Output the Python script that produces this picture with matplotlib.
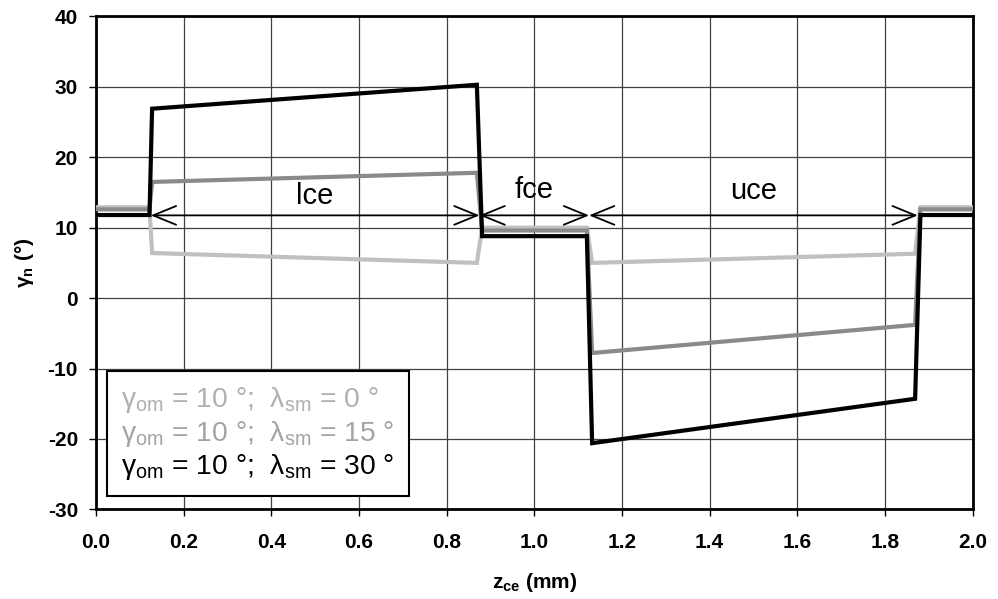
import matplotlib
matplotlib.use("Agg")
import matplotlib.pyplot as plt
from matplotlib.lines import Line2D

plt.rcParams['font.family'] = ['Liberation Sans', 'DejaVu Sans']
plt.rcParams['mathtext.fontset'] = 'custom'
plt.rcParams['mathtext.rm'] = 'Liberation Sans'
plt.rcParams['mathtext.bf'] = 'Liberation Sans:bold'
plt.rcParams['mathtext.it'] = 'Liberation Sans:italic'

# ---- data ----
z_ce = [0.0, 0.122, 0.128, 0.869, 0.881, 1.12, 1.132, 1.869, 1.881, 2.0]
gamma_lam0 = [12.9, 12.9, 6.4, 5.0, 10.0, 10.0, 5.0, 6.3, 12.9, 12.9]
gamma_lam15 = [12.6, 12.6, 16.5, 17.8, 9.6, 9.6, -7.8, -3.8, 12.6, 12.6]
gamma_lam30 = [11.8, 11.8, 26.9, 30.3, 8.8, 8.8, -20.6, -14.3, 11.8, 11.8]

series_labels = [r'γ$_{\rm om}$ = 10 °;  λ$_{\rm sm}$ = 0 °',
                 r'γ$_{\rm om}$ = 10 °;  λ$_{\rm sm}$ = 15 °',
                 r'γ$_{\rm om}$ = 10 °;  λ$_{\rm sm}$ = 30 °']
line_colors = ['#c0c0c0', '#8a8a8a', '#000000']
text_colors = ['#b0b0b0', '#a4a4a4', '#000000']

zone_names = ['lce', 'fce', 'uce']
zone_starts = [0.125, 0.875, 1.125]
zone_ends = [0.875, 1.125, 1.875]
zone_label_x = [0.5, 1.0, 1.5]
zone_label_y = [14.5, 15.4, 15.2]
arrow_y = 11.75

x_ticks = [0.0, 0.2, 0.4, 0.6, 0.8, 1.0, 1.2, 1.4, 1.6, 1.8, 2.0]
y_ticks = [-30, -20, -10, 0, 10, 20, 30, 40]

fig = plt.figure(figsize=(9.98, 5.99), dpi=100)
ax = fig.add_axes([0.0962, 0.1497, 0.8783, 0.8228])

ax.set_xlim(0, 2)
ax.set_ylim(-30, 40)
ax.set_xticks(x_ticks)
ax.set_yticks(y_ticks)
ax.set_xticklabels([f"{v:.1f}" for v in x_ticks], fontweight='bold', fontsize=15)
ax.set_yticklabels([str(v) for v in y_ticks], fontweight='bold', fontsize=15)
ax.grid(True, color='#404040', linewidth=0.9)
ax.set_axisbelow(True)
ax.tick_params(direction='out', length=5, width=1)
ax.tick_params(axis='x', pad=12)
ax.tick_params(axis='y', pad=8)
for s in ax.spines.values():
    s.set_linewidth(2)

for ys, c in zip([gamma_lam0, gamma_lam15, gamma_lam30], line_colors):
    ax.plot(z_ce, ys, color=c, linewidth=3, solid_joinstyle='miter', zorder=3)

for name, x0, x1, lx, ly in zip(zone_names, zone_starts, zone_ends, zone_label_x, zone_label_y):
    ax.annotate('', xy=(x0, arrow_y), xytext=(x1, arrow_y),
                arrowprops=dict(arrowstyle='<->,head_length=1.1,head_width=0.45',
                                color='black', lw=1.3, shrinkA=0, shrinkB=0,
                                mutation_scale=15), zorder=4)
    ax.text(lx, ly, name, ha='center', va='center', fontsize=21, zorder=5)

handles = [Line2D([], [], linestyle='none') for _ in series_labels]
leg = ax.legend(handles, series_labels, loc='lower left',
                bbox_to_anchor=(0.0125, 0.027), frameon=True, fancybox=False,
                handlelength=0, handletextpad=0, labelcolor=text_colors,
                fontsize=20.3, borderpad=0.5, labelspacing=0.12,
                borderaxespad=0)
leg.get_frame().set_edgecolor('black')
leg.get_frame().set_linewidth(1.5)
leg.get_frame().set_alpha(1)
leg.set_zorder(6)

ax.set_xlabel(r'z$_{\mathbf{ce}}$ (mm)', fontweight='bold', fontsize=15, labelpad=14)
ax.set_ylabel(r'γ$_{\mathbf{n}}$ (°)', fontweight='bold', fontsize=15, labelpad=8)

fig.savefig('out.png', dpi=100)
